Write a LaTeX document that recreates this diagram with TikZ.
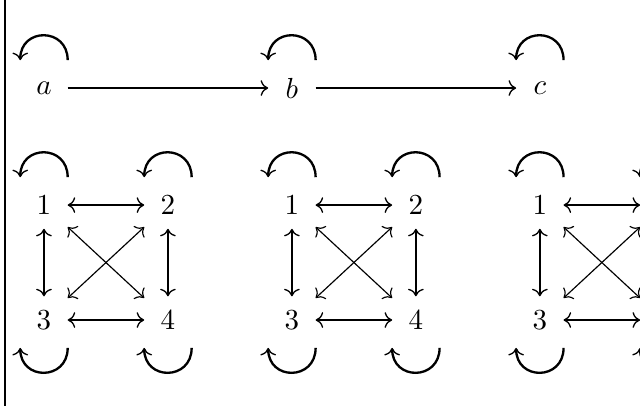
\documentclass[tikz,border=0pt]{standalone}
\usepackage{tikz}
\usetikzlibrary{arrows.meta}
\tikzstyle{vertex} = [rectangle, minimum size=0.56cm, inner sep=0pt]
\tikzstyle{arrow} = [-{To[length=2.6pt, width=5.4pt, line width=0.45pt]}, line width=0.7pt]
\tikzstyle{biarrow} = [{To[length=2.6pt, width=5.4pt, line width=0.45pt]}-{To[length=2.6pt, width=5.4pt, line width=0.45pt]}, line width=0.7pt]
\tikzstyle{cross} = [{To[length=2.6pt, width=5.4pt, line width=0.4pt]}-{To[length=2.6pt, width=5.4pt, line width=0.4pt]}, line width=0.4pt]
\tikzstyle{selfloop} = [-{To[length=2.6pt, width=5.4pt, line width=0.45pt]}, line width=0.8pt]

\begin{document}
\begin{tikzpicture}

    \useasboundingbox (-0.532, 1.065) rectangle (7.212, -3.848);
    \draw [line width=0.8pt] (-0.472, 1.065) -- (-0.472, -3.848);

    \node (a) [vertex] at (0, 0) {$a$};
    \node (b) [vertex] at (3, 0) {$b$};
    \node (c) [vertex] at (6, 0) {$c$};

    \draw [arrow] (a) -- (b);
    \draw [arrow] (b) -- (c);

    \foreach \n in {a, b, c}
        \draw [selfloop] ([yshift=0.05cm]\n.north east) .. controls +(0, 0.4) and +(0, 0.4) .. ([yshift=0.05cm]\n.north west);

    % the three copies of the four-state chain (the last one runs off the right edge)
    \foreach \k/\x/\two/\four in {0/0/2/4, 1/3/2/4, 2/6/ / } {
        \node (one\k) [vertex] at (\x, -1.416) {1};
        \node (two\k) [vertex] at (\x + 1.5, -1.416) {\two};
        \node (three\k) [vertex] at (\x, -2.807) {3};
        \node (four\k) [vertex] at (\x + 1.5, -2.807) {\four};

        \draw [biarrow] (one\k) -- (two\k);
        \draw [biarrow] (three\k) -- (four\k);
        \draw [biarrow] (one\k) -- (three\k);
        \draw [biarrow] (two\k) -- (four\k);
        \draw [cross] (one\k) -- (four\k);
        \draw [cross] (two\k) -- (three\k);

        \draw [selfloop] ([yshift=0.05cm]one\k.north east) .. controls +(0, 0.4) and +(0, 0.4) .. ([yshift=0.05cm]one\k.north west);
        \draw [selfloop] ([yshift=0.05cm]two\k.north east) .. controls +(0, 0.4) and +(0, 0.4) .. ([yshift=0.05cm]two\k.north west);
        \draw [selfloop] ([yshift=-0.05cm]three\k.south east) .. controls +(0, -0.4) and +(0, -0.4) .. ([yshift=-0.05cm]three\k.south west);
        \draw [selfloop] ([yshift=-0.05cm]four\k.south east) .. controls +(0, -0.4) and +(0, -0.4) .. ([yshift=-0.05cm]four\k.south west);
    }

\end{tikzpicture}
\end{document}
